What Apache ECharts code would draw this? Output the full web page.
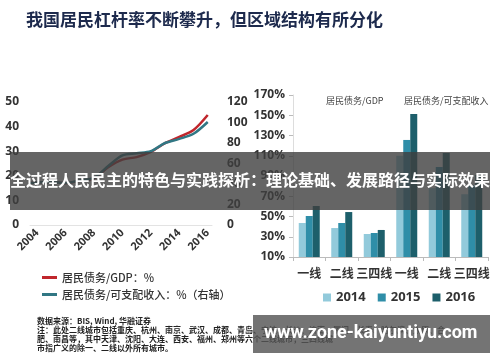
<!DOCTYPE html>
<html>
<head>
<meta charset="utf-8">
<script src="https://cdn.jsdelivr.net/npm/echarts@6/dist/echarts.min.js"></script>
<style>
html,body{margin:0;padding:0;background:#fff;}
#c{width:500px;height:362px;}
</style>
</head>
<body>
<div id="c"></div>
<script>
// ---- data ----
const mainTitle = '我国居民杠杆率不断攀升，但区域结构有所分化';
const lineYears = [2003.5, 2004, 2005, 2006, 2007, 2008, 2009, 2010, 2011, 2012, 2013, 2014, 2015, 2016];
const debtGdp = [17.1, 17.3, 17.5, 17.0, 18.0, 19.0, 23.5, 26.6, 27.6, 29.7, 33.3, 35.8, 38.6, 44.7];
const debtIncome = [41, 41.5, 42, 41, 43.5, 46, 57.5, 68, 70, 72, 80, 84, 89, 100.5];
const yearTicks = [2004, 2006, 2008, 2010, 2012, 2014, 2016];
const lineNames = ['居民债务/GDP：%', '居民债务/可支配收入：%（右轴）'];

const barCats = ['一线', '二线', '三四线', '一线', '二线', '三四线'];
const barYears = ['2014', '2015', '2016'];
const bar2014 = [43.6, 38.6, 32.7, 110, 78, 72];
const bar2015 = [50.5, 43.6, 33.7, 125.6, 98.9, 81];
const bar2016 = [60.4, 54.4, 36.7, 151.2, 112.7, 91];
const panelTitles = ['居民债务/GDP', '居民债务/可支配收入'];

const noteLines = [
  '数据来源：BIS, Wind, 华融证券',
  '注：此处二线城市包括重庆、杭州、南京、武汉、成都、青岛、宁波、长沙、济南、厦门、长春、哈尔滨、太原、合',
  '肥、南昌等，其中天津、沈阳、大连、西安、福州、郑州等六个二线城市，三四线城',
  '市指广义的除一、二线以外所有城市。'
];
const bannerText = '全过程人民民主的特色与实践探析：理论基础、发展路径与实际效果';
const watermark = 'www.zone-kaiyuntiyu.com';

// ---- chart ----
const FONT = "'Open Sans','Noto Sans CJK SC',sans-serif";
const CJK = "'Noto Sans CJK SC',sans-serif";
const lblStyle = {color: '#333', fontSize: 12, fontWeight: 'bold', fontFamily: FONT};
const barColors = ['#92cadb', '#2f8ea8', '#1d5f6b'];

const chart = echarts.init(document.getElementById('c'), null, {renderer: 'canvas'});
chart.setOption({
  animation: false,
  backgroundColor: '#fff',
  title: [
    {text: mainTitle, left: 21, top: 6, textStyle: {fontSize: 17, fontWeight: 'bold', color: '#1d2a4d', fontFamily: CJK}},
    {text: panelTitles[0], left: 321, top: 91, textStyle: {fontSize: 9, fontWeight: 'normal', color: '#444', fontFamily: CJK}},
    {text: panelTitles[1], left: 399, top: 91, textStyle: {fontSize: 9, fontWeight: 'normal', color: '#444', fontFamily: CJK}}
  ],
  legend: [
    {
      data: lineNames, orient: 'vertical', left: 37, top: 267, itemGap: 6,
      icon: 'rect', itemWidth: 15, itemHeight: 3,
      textStyle: {fontSize: 11, color: '#333', fontFamily: CJK, fontWeight: 500}
    },
    {
      data: barYears, orient: 'horizontal', left: 318, top: 286, itemGap: 12,
      icon: 'rect', itemWidth: 8, itemHeight: 8,
      textStyle: {fontSize: 13, color: '#333', fontWeight: 'bold', fontFamily: FONT}
    }
  ],
  grid: [
    {left: 30, right: 288, top: 102, bottom: 137},
    {left: 293, right: 12, top: 95, bottom: 105}
  ],
  xAxis: [
    {
      type: 'value', gridIndex: 0, min: 2003.5, max: 2016.3,
      axisLine: {show: true, lineStyle: {color: '#e3e3e3'}},
      axisTick: {show: false}, splitLine: {show: false},
      axisLabel: Object.assign({}, lblStyle, {fontSize: 11, rotate: 45, margin: 6, customValues: yearTicks, formatter: v => String(v)})
    },
    {
      type: 'category', gridIndex: 1, data: barCats,
      axisLine: {show: true, lineStyle: {color: '#bbb'}},
      axisTick: {show: true, length: 4, lineStyle: {color: '#bbb'}},
      axisLabel: Object.assign({}, lblStyle, {margin: 10, fontFamily: CJK, interval: 0})
    },
    {
      type: 'value', gridIndex: 1, min: 0, max: 6, show: false
    }
  ],
  yAxis: [
    {
      type: 'value', gridIndex: 0, min: 0, max: 50, interval: 10,
      axisLine: {show: false}, axisTick: {show: false}, splitLine: {show: false},
      axisLabel: Object.assign({}, lblStyle, {margin: 11})
    },
    {
      type: 'value', gridIndex: 0, min: 0, max: 120, interval: 20, position: 'right',
      axisLine: {show: false}, axisTick: {show: false}, splitLine: {show: false},
      axisLabel: Object.assign({}, lblStyle, {margin: 15})
    },
    {
      type: 'value', gridIndex: 1, min: 10, max: 170, interval: 20,
      axisLine: {show: true, lineStyle: {color: '#ddd'}},
      axisTick: {show: true, inside: false, length: 4, lineStyle: {color: '#bbb'}},
      splitLine: {show: false},
      axisLabel: Object.assign({}, lblStyle, {margin: 8, formatter: '{value}%'})
    }
  ],
  series: [
    {
      name: lineNames[0], type: 'line', xAxisIndex: 0, yAxisIndex: 0,
      data: lineYears.map((y, i) => [y, debtGdp[i]]),
      smooth: 0.3, showSymbol: false, color: '#c0262c',
      lineStyle: {width: 2.5, color: '#c0262c'}, z: 3
    },
    {
      name: lineNames[1], type: 'line', xAxisIndex: 0, yAxisIndex: 1,
      data: lineYears.map((y, i) => [y, debtIncome[i]]),
      smooth: 0.3, showSymbol: false, color: '#317784',
      lineStyle: {width: 2.5, color: '#317784'}, z: 4
    },
    {name: barYears[0], type: 'bar', xAxisIndex: 1, yAxisIndex: 2, data: bar2014, barWidth: 7, barGap: '0%', color: barColors[0], itemStyle: {color: barColors[0]}},
    {name: barYears[1], type: 'bar', xAxisIndex: 1, yAxisIndex: 2, data: bar2015, barWidth: 7, barGap: '0%', color: barColors[1], itemStyle: {color: barColors[1]}},
    {name: barYears[2], type: 'bar', xAxisIndex: 1, yAxisIndex: 2, data: bar2016, barWidth: 7, barGap: '0%', color: barColors[2], itemStyle: {color: barColors[2]}},
    {
      type: 'line', xAxisIndex: 2, yAxisIndex: 2, data: [], silent: true,
      markLine: {
        symbol: 'none', silent: true, label: {show: false},
        lineStyle: {type: [2, 2], color: '#444', width: 1.5},
        data: [[{coord: [3, 175]}, {coord: [3, 20]}]]
      }
    }
  ],
  graphic: [
    {
      type: 'text', left: 37, top: 316, z: 50,
      style: {text: noteLines.join('\n'), fontSize: 8, lineHeight: 9, fontWeight: 'bold', fill: '#222', fontFamily: CJK}
    },
    {
      type: 'rect', left: 10, top: 152, z: 100,
      shape: {width: 480, height: 58},
      style: {fill: 'rgba(62,62,62,0.8)'}
    },
    {
      type: 'text', left: 10, top: 172, z: 101,
      style: {text: bannerText, fontSize: 16, fontWeight: 'bold', fill: '#fff', fontFamily: CJK}
    },
    {
      type: 'rect', left: 253, top: 315, z: 100,
      shape: {width: 237, height: 38},
      style: {fill: 'rgba(85,85,85,0.82)'}
    },
    {
      type: 'text', left: 264, top: 324, z: 101,
      style: {text: watermark, fontSize: 18, fontWeight: 'bold', fill: '#fff', fontFamily: "Roboto, 'Open Sans', sans-serif"}
    }
  ]
});
</script>
</body>
</html>
